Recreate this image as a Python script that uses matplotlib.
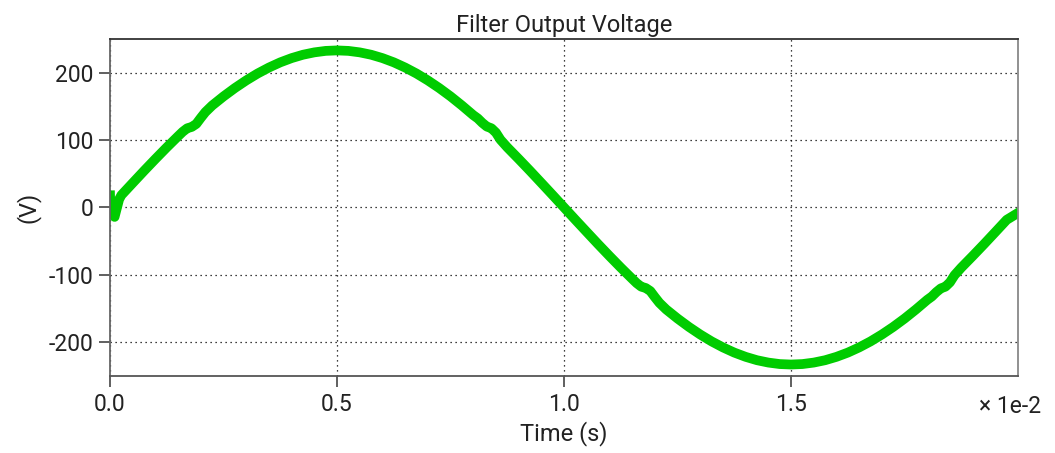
import matplotlib

matplotlib.use("Agg")

import matplotlib.pyplot as plt
from matplotlib.ticker import FuncFormatter
import numpy as np

# Values (time in ms, voltage in V)
time_ms = [
    0, 0.01, 0.1, 0.2, 0.25, 0.5, 0.75, 1.0, 1.25, 1.5, 1.6, 1.7, 1.8, 1.9,
    2.0, 2.1, 2.25, 2.5, 2.75, 3.0, 3.25, 3.5, 3.75, 4.0, 4.25, 4.5, 4.75,
    5.0, 5.25, 5.5, 5.75, 6.0, 6.25, 6.5, 6.75, 7.0, 7.25, 7.5, 7.75, 8.0,
    8.1, 8.2, 8.3, 8.4, 8.5, 8.6, 8.75, 9.0, 9.25, 9.5, 9.75, 10.0,
    10.25, 10.5, 10.75, 11.0, 11.25, 11.5, 11.6, 11.7, 11.8, 11.9, 12.0,
    12.1, 12.25, 12.5, 12.75, 13.0, 13.25, 13.5, 13.75, 14.0, 14.25, 14.5,
    14.75, 15.0, 15.25, 15.5, 15.75, 16.0, 16.25, 16.5, 16.75, 17.0, 17.25,
    17.5, 17.75, 18.0, 18.1, 18.2, 18.3, 18.4, 18.5, 18.6, 18.75, 19.0,
    19.25, 19.5, 19.75, 20.0,
]
voltage = [
    18, -5, -14, 12, 18.3, 36.4, 54.4, 72.0, 89.2, 105.8, 112.3, 117.5,
    119.5, 124, 133, 141.5, 151.3, 164.8, 177.2, 188.5, 198.7, 207.6, 215.3,
    221.6, 226.6, 230.1, 232.3, 233.0, 232.3, 230.1, 226.6, 221.6, 215.3,
    207.6, 198.7, 188.5, 177.2, 164.8, 151.3, 137.0, 132.1, 125.5, 120,
    117.5, 111, 100.5, 89.2, 72.0, 54.4, 36.4, 18.3, 0,
    -18.3, -36.4, -54.4, -72.0, -89.2, -105.8, -112.3, -117.5, -119.5, -124,
    -133, -141.5, -151.3, -164.8, -177.2, -188.5, -198.7, -207.6, -215.3,
    -221.6, -226.6, -230.1, -232.3, -233.0, -232.3, -230.1, -226.6, -221.6,
    -215.3, -207.6, -198.7, -188.5, -177.2, -164.8, -151.3, -137.0, -132.1,
    -125.5, -120, -117.5, -111, -100.5, -89.2, -72.0, -54.4, -36.4, -18.3,
    -8,
]
x_ticks = [0.0, 0.005, 0.010, 0.015]
y_ticks = [-200, -100, 0, 100, 200]

plt.rcParams["font.family"] = ["Roboto", "DejaVu Sans"]
plt.rcParams["axes.unicode_minus"] = False

time_s = np.array(time_ms) * 1e-3

fig = plt.figure(figsize=(10.55, 4.53), dpi=100)
ax = fig.add_axes([0.1043, 0.170, 0.8607, 0.744])

ax.plot(time_s, voltage, color="#00cc00", linewidth=7, solid_joinstyle="round")

ax.set_xlim(0, 0.02)
ax.set_ylim(-250, 250)
ax.set_xticks(x_ticks)
ax.set_yticks(y_ticks)
ax.xaxis.set_major_formatter(FuncFormatter(lambda v, p: f"{v / 1e-2:.1f}"))
ax.grid(True, color="black", linestyle=(0, (1, 3)), linewidth=0.9)

ax.tick_params(axis="both", labelsize=16.5, length=8, width=1.2,
               color="#444444", labelcolor="#222222", pad=4)
ax.spines["left"].set_color("#666666")
ax.spines["bottom"].set_color("#555555")
ax.spines["top"].set_color("#333333")
ax.spines["right"].set_color("#888888")
for s in ax.spines.values():
    s.set_linewidth(1.3)

ax.set_title("Filter Output Voltage", fontsize=17, color="#222222", pad=5)
ax.set_xlabel("Time (s)", fontsize=17, color="#222222", labelpad=4)
ax.set_ylabel("(V)", fontsize=17, color="#222222", labelpad=6)
ax.text(1.025, -0.09, "\u00d7 1e-2", transform=ax.transAxes, fontsize=16.5,
        color="#222222", ha="right", va="center")

fig.savefig("out.png")
plt.close(fig)
